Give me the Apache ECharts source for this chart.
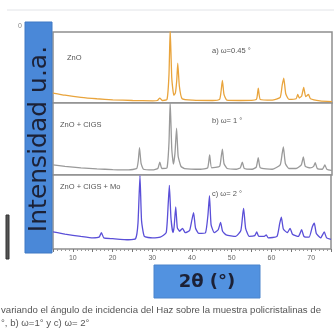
<!DOCTYPE html>
<html>
<head>
<meta charset="utf-8">
<script src="https://cdn.jsdelivr.net/npm/echarts@6/dist/echarts.min.js"></script>
<style>
  html, body { margin: 0; padding: 0; background: #fff; }
  #chart { width: 334px; height: 336px; }
</style>
</head>
<body>
<div id="chart"></div>
<script>
// [2theta, intensidad relativa]
const znoData = [
  [5,14],[8,11],[12,8],[16,6],[20,4.5],[25,3.5],[30,3],[31.2,3.5],[31.8,7],[32.4,3.5],
  [33.6,5],[34.1,40],[34.4,104],[34.8,35],[35.3,11],[35.7,14],[36.05,32],[36.3,56],[36.7,24],[37.4,6],
  [40,4],[45,3.5],[46.8,5],[47.2,18],[47.5,32],[47.9,12],[48.6,4],[52,3.5],[56,5],[56.5,21],
  [57,5],[60,4],[62,8],[62.5,25],[62.9,35],[63.4,13],[64.2,5],[66,6],[66.4,12],[66.8,7],
  [67.4,10],[67.9,22],[68.4,9],[69.1,12],[69.6,6],[72,3],[75,2]
];
const cigsData = [
  [5,14],[8,12],[12,10],[16,8.5],[20,7.5],[24,7],[26,9],[26.4,20],[26.7,38],[27.1,16],
  [27.7,8],[30,7],[31.3,9],[31.8,18],[32.3,9],[33.6,10],[34.1,45],[34.4,102],[34.8,36],[35.2,15],
  [35.6,30],[36,65],[36.4,26],[37.1,12],[38,9],[42,8],[43.8,10],[44.3,28],[44.8,10],[46.8,12],
  [47.2,25],[47.5,36],[47.9,16],[48.7,9],[51,8],[52,10],[52.5,18],[53,9],[55,8],[56,11],
  [56.5,24],[57,10],[60,8],[62,14],[62.5,30],[62.8,39],[63.3,16],[64.2,9],[66,9],[67.3,14],
  [67.8,25],[68.3,12],[69.5,10],[70.4,12],[70.8,17],[71.3,9],[72.6,8],[73.2,14],[73.7,8],[75,6]
];
const moData = [
  [5,23],[8,20],[12,17],[15,15],[16.6,16],[17.2,22],[17.8,15],[20,14],[24,12.5],[25.8,14],
  [26.4,35],[26.9,99],[27.3,38],[28,17],[30,15],[32,16],[33.5,22],[34,60],[34.3,86],[34.7,42],
  [35.2,22],[35.5,30],[35.9,57],[36.3,29],[36.9,24],[37.6,28],[38.3,22],[39.4,25],[40,40],[40.4,49],
  [40.9,28],[41.7,21],[43.4,22],[44,45],[44.4,72],[44.8,33],[45.6,22],[46.6,26],[47.2,36],[47.7,24],
  [48.6,19],[51,17],[52.3,25],[52.8,48],[53,55],[53.5,28],[54.4,17],[55.8,18],[56.3,23],[56.8,17],
  [58.2,17],[58.7,19],[59.2,15],[61.4,17],[62.1,35],[62.5,43],[63,27],[64,22],[64.7,28],[65.3,20],
  [66.8,17],[67.6,26],[68.2,17],[69.5,16],[70.3,30],[70.8,35],[71.3,21],[72.4,15],[73.3,23],[73.9,15],[75,13]
];
const sampleNames = ['ZnO', 'ZnO + CIGS', 'ZnO + CIGS + Mo'];
const omegaLabels = ['a) ω=0.45 °', 'b) ω= 1 °', 'c) ω= 2 °'];
const xTicks = [10, 20, 30, 40, 50, 60, 70];
const captionLines = [
  'variando el ángulo de incidencia del Haz sobre la muestra policristalinas de',
  '°, b) ω=1° y c) ω= 2°'
];

const colors = ['#e9a43c', '#9a9a9a', '#5a4fd8'];
const gridTops = [32, 103, 175];
const gridHeights = [71, 72, 74];
const allData = [znoData, cigsData, moData];

const chart = echarts.init(document.getElementById('chart'));

const grids = [], xAxes = [], yAxes = [], series = [];
for (let i = 0; i < 3; i++) {
  grids.push({
    left: 53, right: 2, top: gridTops[i], height: gridHeights[i],
    show: true, borderColor: '#8e8e8e', borderWidth: 1.5, backgroundColor: '#fff'
  });
  const last = i === 2;
  xAxes.push({
    gridIndex: i, type: 'value', min: 5, max: 75, interval: 5,
    axisLine: { show: false },
    axisTick: { show: last, length: 3, lineStyle: { color: '#777' } },
    minorTick: { show: last, splitNumber: 5, length: 2, lineStyle: { color: '#999' } },
    axisLabel: {
      show: last, fontSize: 7, color: '#666', margin: 6,
      formatter: v => xTicks.indexOf(v) >= 0 ? String(v) : ''
    },
    splitLine: { show: false }
  });
  yAxes.push({ gridIndex: i, type: 'value', min: 0, max: 100, show: false });
  series.push({
    type: 'line', xAxisIndex: i, yAxisIndex: i, data: allData[i],
    showSymbol: false, smooth: 0.15, clip: true,
    lineStyle: { color: colors[i], width: 1.3 }
  });
}

const graphics = [
  { type: 'line', shape: { x1: 7, y1: 10, x2: 334, y2: 10 }, style: { stroke: '#e2e4e8', lineWidth: 1 } },
  { type: 'text', left: 18, top: 23, style: { text: '0', fontSize: 7, fill: '#888' } },
  { type: 'rect', shape: { x: 6, y: 215, width: 3, height: 44 }, style: { fill: '#555', stroke: '#333' } },
  // caja azul eje Y
  { type: 'rect', shape: { x: 25, y: 22, width: 27, height: 231 }, style: { fill: '#4a88d8', stroke: '#3f78c4' }, z: 10 },
  {
    type: 'text', x: 39, y: 139, rotation: Math.PI / 2, z: 11,
    style: { text: 'Intensidad u.a.', font: '25px "DejaVu Sans"', fill: '#1c2136', align: 'center', verticalAlign: 'middle' }
  },
  // caja azul eje X
  { type: 'rect', shape: { x: 154, y: 265, width: 106, height: 33 }, style: { fill: '#5292e0', stroke: '#4a84cc' }, z: 10 },
  {
    type: 'text', x: 207, y: 282, z: 11,
    style: { text: '2θ (°)', font: 'bold 18px "DejaVu Sans"', fill: '#1c2136', align: 'center', verticalAlign: 'middle' }
  },
  { type: 'text', x: 1, y: 305, style: { text: captionLines[0], font: '9.6px "Liberation Sans"', fill: '#555' } },
  { type: 'text', x: 1, y: 318, style: { text: captionLines[1], font: '9.6px "Liberation Sans"', fill: '#555' } }
];
const nameY = [54, 121, 183];
const omegaY = [47, 117, 190];
for (let i = 0; i < 3; i++) {
  graphics.push({ type: 'text', x: i === 0 ? 67 : 60, y: nameY[i], z: 5,
    style: { text: sampleNames[i], font: '7.5px "Liberation Sans"', fill: '#555' } });
  graphics.push({ type: 'text', x: 212, y: omegaY[i], z: 5,
    style: { text: omegaLabels[i], font: '7.5px "Liberation Sans"', fill: '#555' } });
}

chart.setOption({
  backgroundColor: '#fff',
  animation: false,
  grid: grids,
  xAxis: xAxes,
  yAxis: yAxes,
  series: series,
  graphic: graphics
});
</script>
</body>
</html>
